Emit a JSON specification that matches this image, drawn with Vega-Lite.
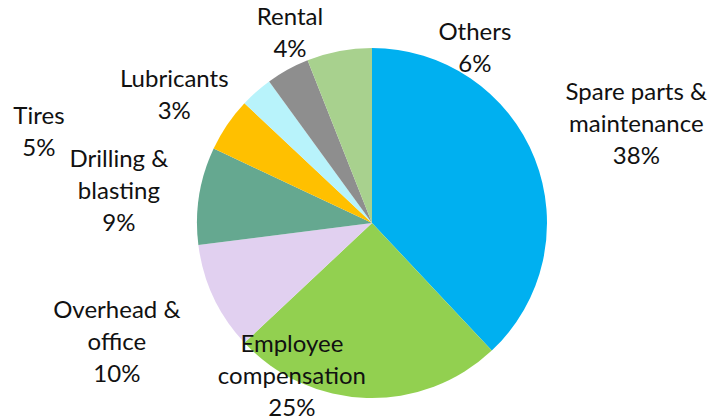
{
  "$schema": "https://vega.github.io/schema/vega-lite/v6.json",
  "width": 682,
  "height": 394,
  "autosize": "none",
  "padding": {"left": 31, "top": 26, "right": 0, "bottom": 0},
  "background": "white",
  "view": {"stroke": null},
  "data": {
    "values": [
      {"idx": 1, "category": "Spare parts & maintenance", "share": 38, "label": "Spare parts &\nmaintenance\n38%"},
      {"idx": 2, "category": "Employee compensation", "share": 25, "label": "Employee\ncompensation\n25%"},
      {"idx": 3, "category": "Overhead & office", "share": 10, "label": "Overhead &\noffice\n10%"},
      {"idx": 4, "category": "Drilling & blasting", "share": 9, "label": "Drilling &\nblasting\n9%"},
      {"idx": 5, "category": "Tires", "share": 5, "label": "Tires\n5%"},
      {"idx": 6, "category": "Lubricants", "share": 3, "label": "Lubricants\n3%"},
      {"idx": 7, "category": "Rental", "share": 4, "label": "Rental\n4%"},
      {"idx": 8, "category": "Others", "share": 6, "label": "Others\n6%"}
    ]
  },
  "encoding": {
    "theta": {"field": "share", "type": "quantitative", "stack": true},
    "order": {"field": "idx", "type": "quantitative"}
  },
  "layer": [
    {
      "mark": {"type": "arc", "outerRadius": 175},
      "encoding": {
        "color": {
          "field": "category",
          "type": "nominal",
          "scale": {
            "domain": ["Spare parts & maintenance", "Employee compensation", "Overhead & office", "Drilling & blasting", "Tires", "Lubricants", "Rental", "Others"],
            "range": ["#00B0F0", "#92D050", "#E1D0F0", "#65A890", "#FFC000", "#B8F3FB", "#8E8E8E", "#A8D18E"]
          },
          "legend": null
        }
      }
    },
    {
      "mark": {
        "type": "text",
        "radius": {"expr": "[282,174,282,255,345,235,206,202][datum.idx-1]"},
        "thetaOffset": {"expr": "[0.021,0.447,0,-0.035,-0.333,-0.2775,0.0934,0.7226][datum.idx-1]"},
        "dy": {"expr": "datum.idx <= 4 ? -32 : -16"},
        "font": "Lato",
        "fontSize": 24,
        "lineHeight": 32,
        "align": "center",
        "baseline": "middle",
        "lineBreak": "\n",
        "color": "#111111"
      },
      "encoding": {
        "text": {"field": "label", "type": "nominal"}
      }
    }
  ]
}
